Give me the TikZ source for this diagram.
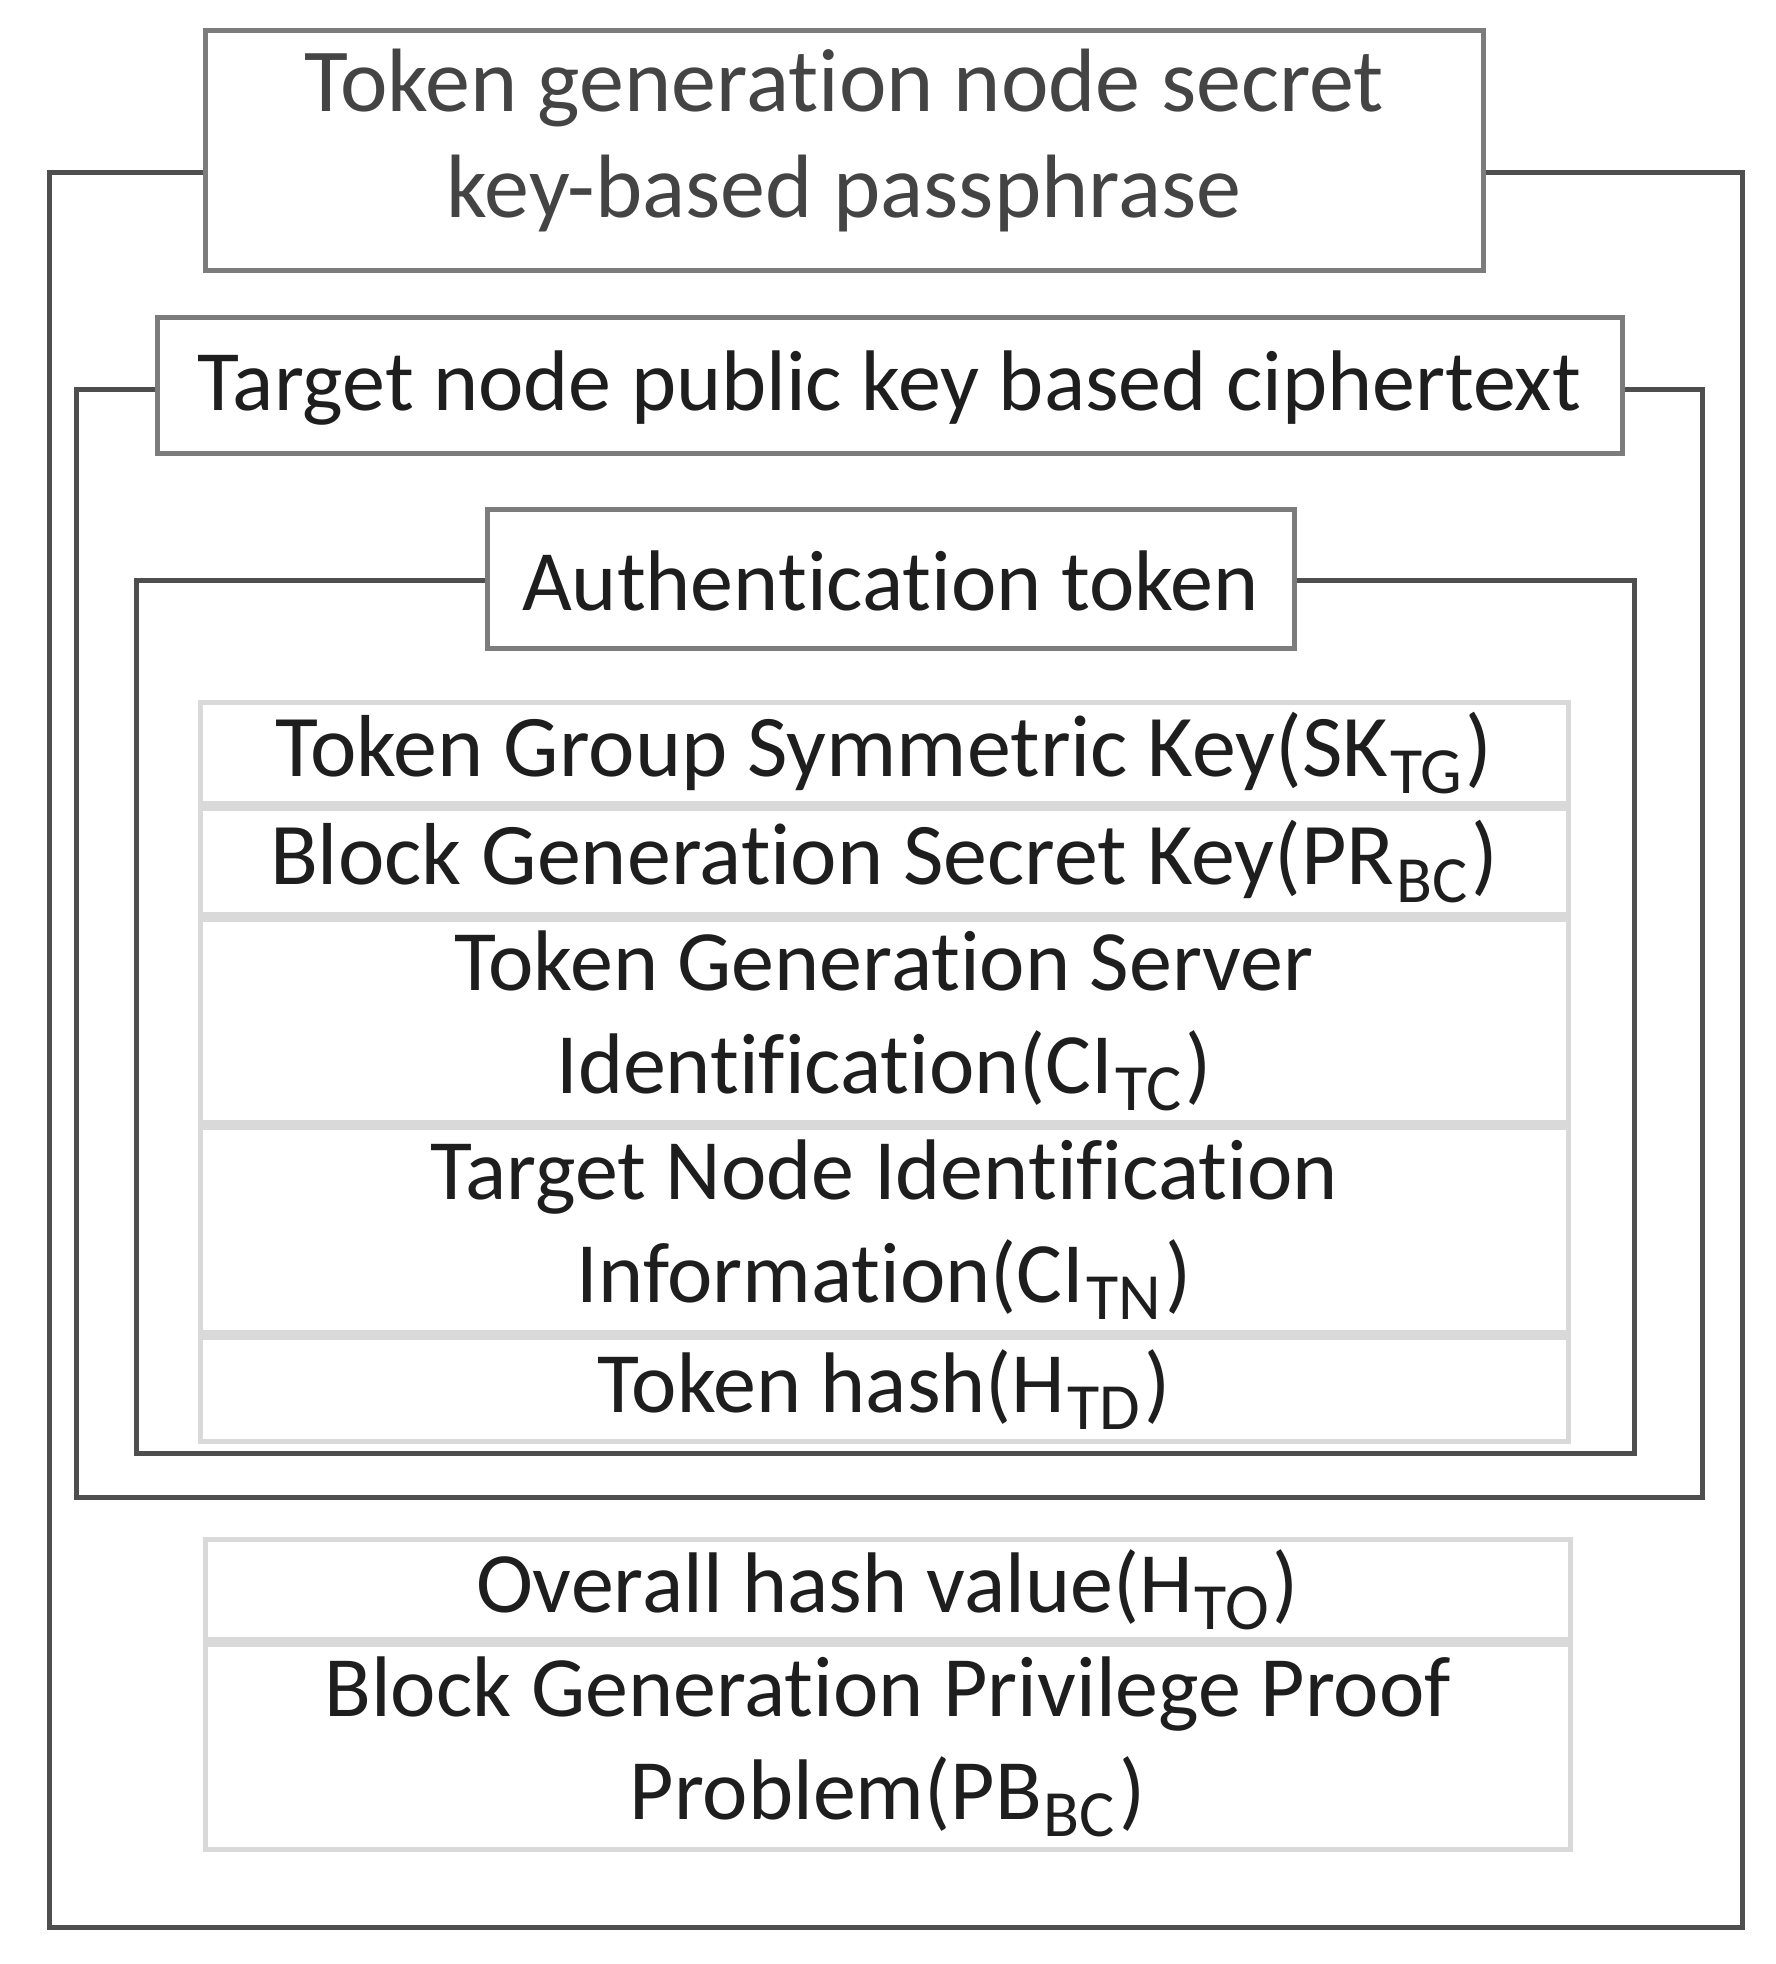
\documentclass[tikz,border=0pt]{standalone}
\usepackage{fontspec}
\setmainfont{Carlito}[Ligatures=NoCommon]
\definecolor{framec}{HTML}{4E4E4E}
\definecolor{boxc}{HTML}{7C7C7C}
\definecolor{cellc}{HTML}{D9D9D9}
\definecolor{txtc}{HTML}{1E1E1E}
\definecolor{txtg}{HTML}{444444}
\newcommand\lsub[1]{\kern2pt\raisebox{-0.2em}{\fontsize{66}{66}\selectfont #1}\kern4pt}
\tikzset{
  frame/.style={draw=framec, line width=5pt},
  titlebox/.style={draw=boxc, fill=white, line width=5pt, inner sep=0pt},
  cell/.style={draw=cellc, line width=5pt, inner sep=0pt, minimum width=#1, align=center,
    text=txtc, font=\fontsize{86}{103}\selectfont},
  label/.style={inner sep=0pt, align=center, text=txtc, font=\fontsize{86}{106}\selectfont},
  bigger/.style={font=\fontsize{88}{103}\selectfont}
}
\begin{document}
\begin{tikzpicture}[x=1pt,y=-1pt]
\useasboundingbox (0,0) rectangle (1775,1964);
\fill[white] (0,0) rectangle (1775,1964);

% nested frames
\draw[frame] (49,173) rectangle (1742,1927);
\draw[frame] (76,389) rectangle (1702,1497);
\draw[frame] (136,580) rectangle (1634,1453);

% title boxes
\node[titlebox, minimum width=1278pt, minimum height=239pt] (tbox) at (844,150.5) {};
\node[label, text=txtg, font=\fontsize{90}{106}\selectfont] (ttxt) at (844,141) {Token generation node secret\\key-based passphrase};

\node[titlebox, minimum width=1465pt, minimum height=136pt] (cbox) at (889.5,385) {};
\node[label] (ctxt) at (889.5,388) {Target node public key based ciphertext};

\node[titlebox, minimum width=807pt, minimum height=139pt] (abox) at (890.5,578.5) {};
\node[label] (atxt) at (890.5,581) {Authentication token};

% authentication token contents
\node[cell=1368pt, bigger, minimum height=101pt, anchor=north] (r1) at (884,700) {Token Group Symmetric Key(SK\lsub{TG})};
\node[cell=1368pt, bigger, minimum height=106pt, anchor=north] (r2) at (r1.south) {Block Generation Secret Key(PR\lsub{BC})};
\node[cell=1368pt, minimum height=203pt, anchor=north] (r3) at (r2.south) {Token Generation Server\\Identification(CI\lsub{TC})};
\node[cell=1368pt, minimum height=205pt, anchor=north] (r4) at (r3.south) {Target Node Identification\\Information(CI\lsub{TN})};
\node[cell=1368pt, minimum height=104pt, anchor=north] (r5) at (r4.south) {Token hash(H\lsub{TD})};

% bottom contents
\node[cell=1365pt, minimum height=100pt, anchor=north] (b1) at (887.5,1537) {Overall hash value(H\lsub{TO})};
\node[cell=1365pt, minimum height=205pt, anchor=north] (b2) at (b1.south) {Block Generation Privilege Proof\\Problem(PB\lsub{BC})};
\end{tikzpicture}
\end{document}
